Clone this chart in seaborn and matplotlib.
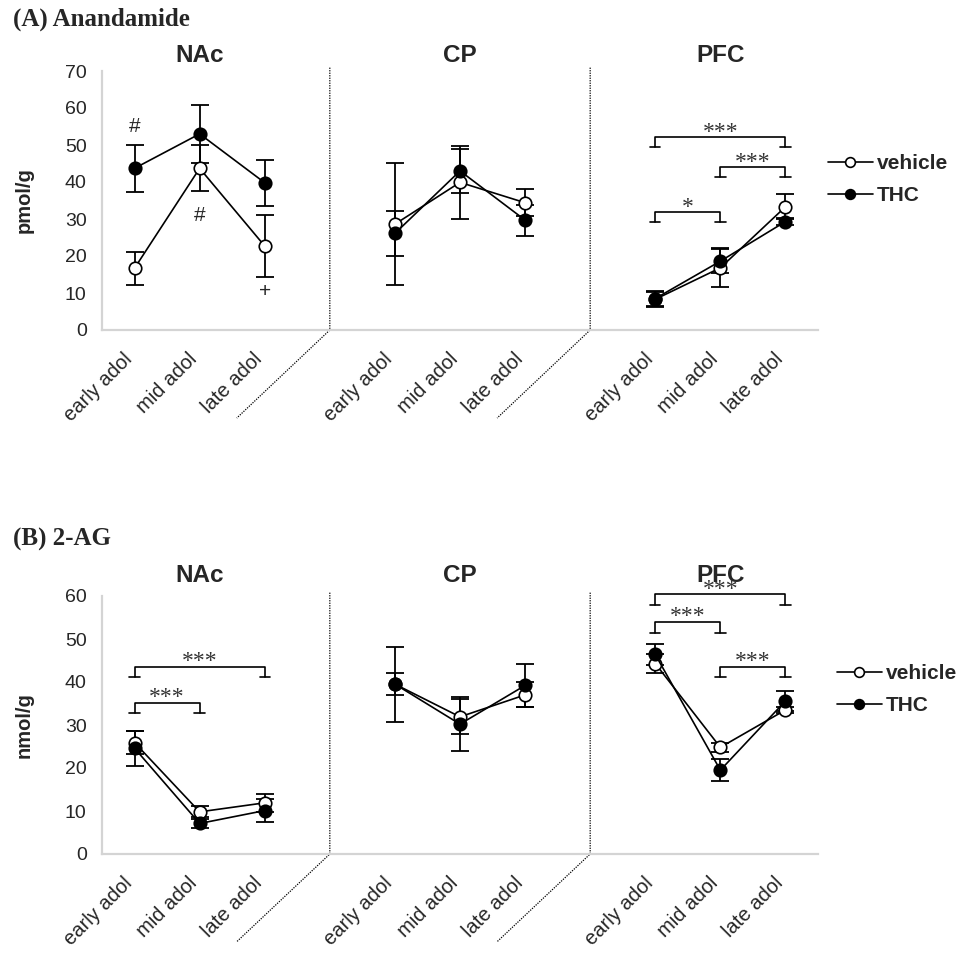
"""Anandamide and 2-AG levels across adolescence in three brain regions, vehicle vs THC."""

import matplotlib.pyplot as plt
import matplotlib.transforms as mtransforms
import numpy as np
import pandas as pd
import seaborn as sns
from matplotlib.lines import Line2D


REGIONS = ["NAc", "CP", "PFC"]
AGES = ["early adol", "mid adol", "late adol"]

# order: NAc early/mid/late, CP early/mid/late, PFC early/mid/late
AEA_VEHICLE = [16.7, 43.7, 22.7, 28.6, 39.9, 34.4, 8.3, 16.8, 33.3]
AEA_VEHICLE_SEM = [4.5, 6.2, 8.3, 16.5, 9.9, 3.6, 2.0, 5.3, 3.4]
AEA_THC = [43.7, 53.0, 39.8, 26.1, 43.0, 29.7, 8.5, 18.6, 29.3]
AEA_THC_SEM = [6.3, 7.8, 6.2, 6.1, 6.0, 4.2, 2.0, 3.2, 1.0]

AG_VEHICLE = [25.9, 9.8, 11.9, 39.5, 31.9, 37.0, 44.3, 24.8, 33.5]
AG_VEHICLE_SEM = [2.7, 1.3, 2.1, 2.6, 4.1, 2.9, 2.3, 1.0, 0.8]
AG_THC = [24.6, 7.1, 10.1, 39.5, 30.2, 39.2, 46.4, 19.5, 35.6]
AG_THC_SEM = [4.1, 1.1, 2.6, 8.7, 6.2, 4.9, 2.4, 2.5, 2.4]

# (region, from age, to age, bracket height, label)
AEA_BRACKETS = [
    ("PFC", 0, 2, 52.2, "***"),
    ("PFC", 1, 2, 44.1, "***"),
    ("PFC", 0, 1, 31.8, "*"),
]
AG_BRACKETS = [
    ("NAc", 0, 2, 43.6, "***"),
    ("NAc", 0, 1, 35.2, "***"),
    ("PFC", 0, 2, 60.4, "***"),
    ("PFC", 0, 1, 54.0, "***"),
    ("PFC", 1, 2, 43.6, "***"),
]
# (region, age, height, symbol)
AEA_MARKS = [("NAc", 0, 55.0, "#"), ("NAc", 1, 31.0, "#"), ("NAc", 2, 10.5, "+")]
AG_MARKS = []

W, H = 959, 956


def position(region_idx: int, age_idx: int) -> int:
    # one blank category between regions
    return region_idx * 4 + age_idx


def build_frame(veh, veh_sem, thc, thc_sem) -> pd.DataFrame:
    rows = []
    for treatment, vals, sems in (("vehicle", veh, veh_sem), ("THC", thc, thc_sem)):
        for i, (v, s) in enumerate(zip(vals, sems)):
            r, a = divmod(i, 3)
            rows.append(
                {
                    "region": REGIONS[r],
                    "age": AGES[a],
                    "treatment": treatment,
                    "value": v,
                    "sem": s,
                    "pos": position(r, a),
                }
            )
    return pd.DataFrame(rows)


def plot_panel(ax, df, ymax, ylabel, brackets, marks, leg_len, title_y, legend_anchor):
    for treatment, face in (("vehicle", "white"), ("THC", "black")):
        sub = df[df["treatment"] == treatment]
        ax.errorbar(
            sub["pos"], sub["value"], yerr=sub["sem"], fmt="none",
            ecolor="black", elinewidth=1.3, capsize=6.5, capthick=1.3, zorder=2,
        )
        sns.lineplot(
            data=sub, x="pos", y="value", units="region", estimator=None,
            color="black", linewidth=1.2, marker="o", markersize=9,
            markerfacecolor=face, markeredgecolor="black", markeredgewidth=1.2,
            legend=False, ax=ax, zorder=3,
        )

    ax.set_xlim(-0.5, 10.5)
    ax.set_ylim(0, ymax)
    ax.set_yticks(np.arange(0, ymax + 1, 10))
    ax.set_yticks(np.arange(5, ymax, 10), minor=True)
    ticks = [position(r, a) for r in range(3) for a in range(3)]
    ax.set_xticks(ticks, [AGES[a] for r in range(3) for a in range(3)],
                  rotation=45, ha="right", rotation_mode="anchor")
    ax.tick_params(axis="x", length=0, pad=14, labelsize=14.5)
    ax.tick_params(axis="y", which="both", length=6, width=1, color="#bfbfbf",
                   direction="out", labelsize=14, pad=5)
    shift = mtransforms.ScaledTranslation(-0.12, 0, ax.figure.dpi_scale_trans)
    for lab in ax.get_xticklabels():
        lab.set_transform(lab.get_transform() + shift)
    for side in ("top", "right"):
        ax.spines[side].set_visible(False)
    for side in ("left", "bottom"):
        ax.spines[side].set_color("#d4d4d4")
        ax.spines[side].set_linewidth(1.6)

    ax.set_xlabel("")
    ax.set_ylabel(ylabel, fontsize=14.5, fontweight="bold")
    ax.yaxis.set_label_coords(-0.096, 0.5)

    trans = mtransforms.blended_transform_factory(ax.transData, ax.transAxes)
    for gap in (3, 7):
        ax.plot([gap, gap, gap - 1.43], [1.013, 0, -0.34], transform=trans,
                color="black", lw=0.9, ls=(0, (1, 1)), clip_on=False)

    for r, name in enumerate(REGIONS):
        ax.text(position(r, 1), title_y, name, transform=trans, ha="center",
                va="center", fontsize=17.5, fontweight="bold")

    for region, a0, a1, y, label in brackets:
        r = REGIONS.index(region)
        x0, x1 = position(r, a0), position(r, a1)
        ax.plot([x0, x0, x1, x1], [y - leg_len, y, y, y - leg_len],
                color="black", lw=1.2, clip_on=False)
        for x in (x0, x1):
            ax.plot([x - 0.08, x + 0.08], [y - leg_len] * 2, color="black",
                    lw=1.2, clip_on=False)
        ax.annotate(label, ((x0 + x1) / 2, y), xytext=(0, -0.5),
                    textcoords="offset points", ha="center", va="baseline",
                    family="Liberation Serif", fontsize=17, color="#333333",
                    annotation_clip=False)

    for region, a, y, sym in marks:
        ax.text(position(REGIONS.index(region), a), y, sym, ha="center",
                va="center", fontsize=15)

    handles = [
        Line2D([], [], color="black", lw=1.2, marker="o", markersize=7,
               markerfacecolor=face, markeredgecolor="black", markeredgewidth=1.2)
        for face in ("white", "black")
    ]
    ax.legend(handles, ["vehicle", "THC"], loc="upper left",
              bbox_to_anchor=legend_anchor, bbox_transform=ax.figure.transFigure,
              frameon=False, borderpad=0, borderaxespad=0, handlelength=2.15,
              handletextpad=0.2, labelspacing=0.62,
              prop={"weight": "bold", "size": 15})


def main() -> None:
    sns.set_theme(style="white")
    plt.rcParams["font.family"] = ["Liberation Sans", "DejaVu Sans"]

    fig = plt.figure(figsize=(W / 100, H / 100), dpi=100)
    ax_top = fig.add_axes([102 / W, 1 - 330 / H, 716 / W, 259 / H])
    ax_bot = fig.add_axes([102 / W, 1 - 854 / H, 716 / W, 258 / H])

    aea = build_frame(AEA_VEHICLE, AEA_VEHICLE_SEM, AEA_THC, AEA_THC_SEM)
    ag = build_frame(AG_VEHICLE, AG_VEHICLE_SEM, AG_THC, AG_THC_SEM)

    plot_panel(ax_top, aea, 70, "pmol/g", AEA_BRACKETS, AEA_MARKS, 2.7,
               1.058, (828 / W, 1 - 154 / H))
    plot_panel(ax_bot, ag, 60, "nmol/g", AG_BRACKETS, AG_MARKS, 2.5,
               1.081, (837 / W, 1 - 664 / H))

    fig.text(13 / W, 1 - 19 / H, "(A) Anandamide", family="Liberation Serif",
             fontweight="bold", fontsize=18, va="center")
    fig.text(13 / W, 1 - 539 / H, "(B) 2-AG", family="Liberation Serif",
             fontweight="bold", fontsize=18, va="center")

    fig.savefig("out.png", dpi=100)
    plt.close(fig)


if __name__ == "__main__":
    main()
